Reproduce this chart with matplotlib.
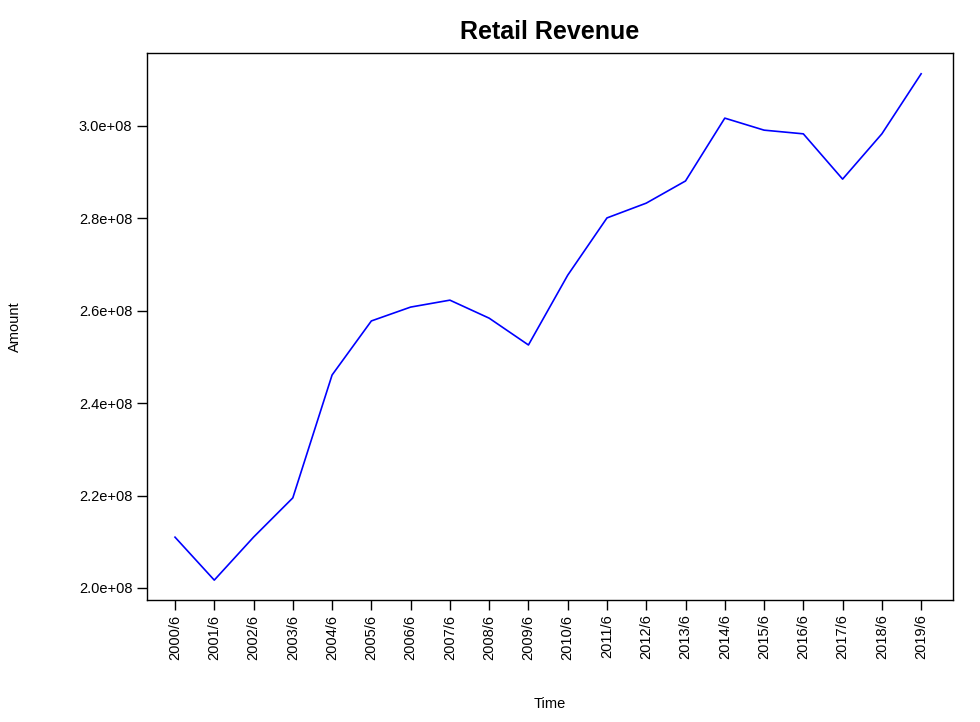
import matplotlib
matplotlib.use("Agg")
import matplotlib.pyplot as plt

plt.rcParams['font.family'] = ['Liberation Sans', 'DejaVu Sans']

labels = [f"{y}/6" for y in range(2000, 2020)]
values = [2.110, 2.017, 2.110, 2.195, 2.461, 2.578, 2.608, 2.623, 2.584, 2.526,
          2.677, 2.801, 2.833, 2.881, 3.017, 2.991, 2.983, 2.885, 2.983, 3.113]
values = [v * 1e8 for v in values]
yticks = [2.0e8, 2.2e8, 2.4e8, 2.6e8, 2.8e8, 3.0e8]
ytick_labels = ["2.0e+08", "2.2e+08", "2.4e+08", "2.6e+08", "2.8e+08", "3.0e+08"]

fig = plt.figure(figsize=(9.8, 7.22), dpi=100)
ax = fig.add_axes([0.15, 0.169, 0.8224, 0.7576])
x = list(range(len(values)))
ax.plot(x, values, color='blue', lw=1.2)
ax.set_xlim(-0.713, 19.81)
ax.set_ylim(1.974e8, 3.158e8)
ax.set_xticks(x)
ax.set_xticklabels(labels, rotation=90, fontsize=10.5)
ax.set_yticks(yticks)
ax.set_yticklabels(ytick_labels, fontsize=10.5)
ax.tick_params(length=7, width=1, color='black')
for s in ax.spines.values():
    s.set_linewidth(1)
ax.set_xlabel("Time", fontsize=10.5)
ax.xaxis.set_label_coords(0.5, -0.178)
ax.set_ylabel("Amount", fontsize=10.5)
ax.yaxis.set_label_coords(-0.155, 0.5)
ax.set_title("Retail Revenue", fontsize=18, fontweight='bold', pad=10)
fig.savefig("out.png", dpi=100)
